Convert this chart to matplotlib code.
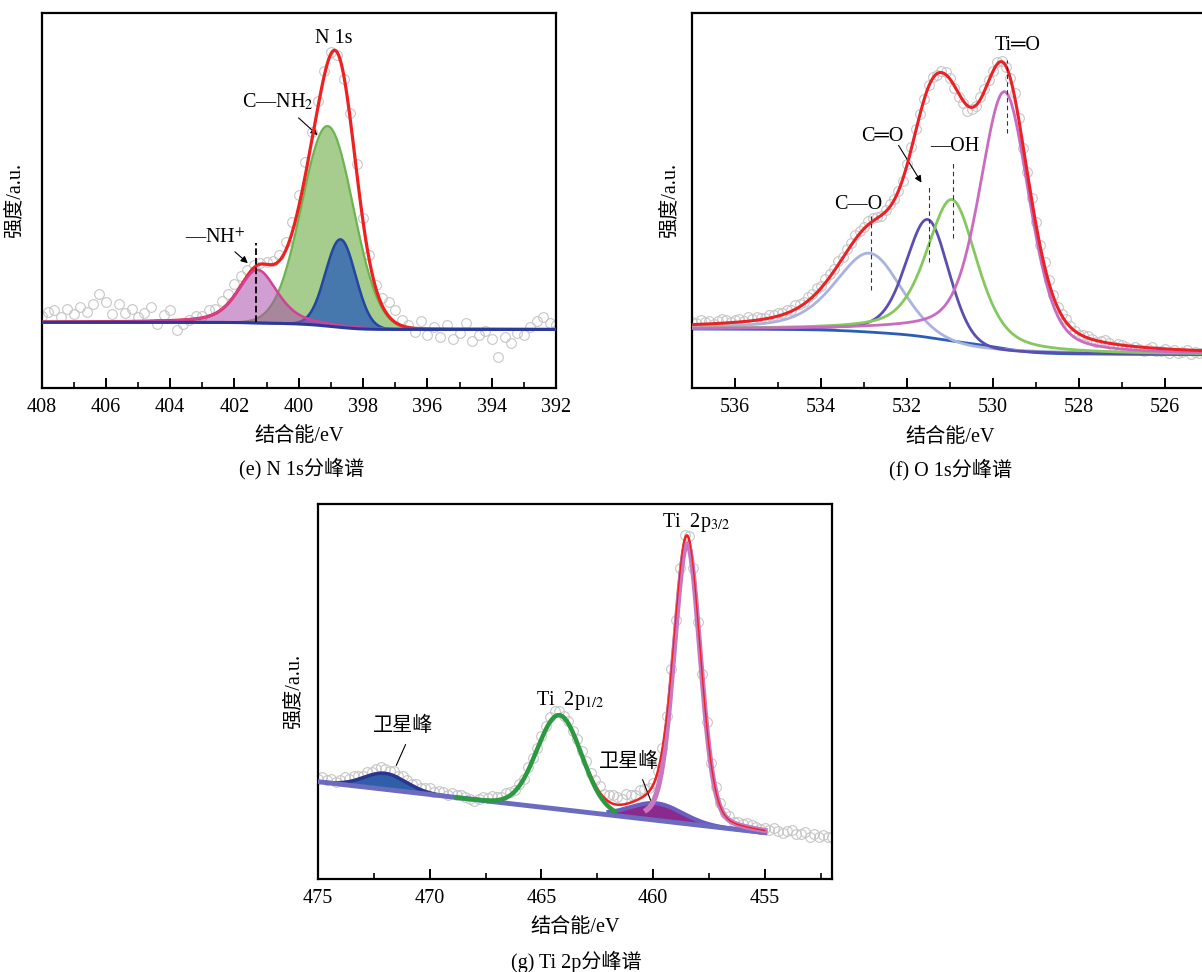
import numpy as np
import matplotlib.pyplot as plt
from matplotlib.ticker import MultipleLocator

plt.rcParams['font.family'] = ['Liberation Serif', 'Noto Sans CJK SC', 'DejaVu Sans']
plt.rcParams['mathtext.fontset'] = 'stix'

# ---------- (e) N 1s : fitted peaks (centre eV, height, FWHM eV, lorentz share) ----------
n1s_center = [401.28, 399.1, 398.7]      # -NH+, C-NH2, third component
n1s_height = [53, 200, 88]
n1s_fwhm = [1.45, 1.88, 1.1]
n1s_eta = [0.5, 0.0, 0.0]
n1s_bg = [65.7, 58.5]                    # background at 408 eV / 392 eV
# raw counts minus fit, 408 -> 392 eV every 0.2 eV
n1s_resid = [6, 10, 12, 5, 13, 8, 15, 10, 18, 28, 20, 8, 18, 9, 12, 4, 8, 14, -3, 6, 11, -10, -4, 0, 3,
             2, 6, 5, 8, 10, 12, 10, 6, 3, 1, 2, 4, 6, 8, 10, 12, 14, 10, 6, 4, 2, -2, -4, 6, 8,
             4, 6, 4, 8, 14, 12, 6, 2, -4, 8, -6, 2, -8, 4, -10, -4, 6, -12, -6, -2, -10, -28, -8, -14, -4,
             -6, 2, 8, 12, 6, 4]

# ---------- (f) O 1s ----------
o1s_center = [532.83, 531.5, 530.94, 529.72]   # C-O, C=O, -OH, Ti=O
o1s_height = [88, 122, 142, 250]
o1s_fwhm = [1.95, 1.2, 1.4, 1.35]
o1s_eta = [0.5, 0.3, 0.5, 0.35]
o1s_bg = [59, 33.5]                              # background at 537 eV / 525 eV
o1s_resid = [3, 1, 4, 2, 3, 0, 2, 4, 3, 1, 2, 3, 1, 4, 2, 3, 2, 1, 3, 2, 3,
             2, 3, 1, 4, 3, 2, 4, 3, 5, 2, 4, 3, 2, 4, 1, 3, 2, 4, 3, 2,
             4, 3, 1, -1, 2, 3, 1, 0, -2, 1, 2, 3, 1, 0, 2, 1, -1, 2, 3, 1,
             -2, -4, -3, -6, -2, 0, 3, 2, 1, 0, 2, 1, -1, 0, 3, 2, -2, 1, 2, 3,
             2, 4, 3, 1, 0, 2, 3, 1, 0, -1, 1, 2, 0, -1, 1, 2, 0, -2, 1, 0,
             -1, -3, 0, -2, -4, -1, 1, -3, -2, 0, -4, -1, -3, -2, 0, -4, -2, -3, -1, -2]

# ---------- (g) Ti 2p ----------
ti_center = [472.0, 464.2, 459.85, 458.48]     # satellite, 2p1/2, satellite, 2p3/2
ti_height = [16, 94, 17, 280]
ti_fwhm = [2.2, 2.35, 2.7, 1.4]
ti_eta = [0.0, 0.0, 0.0, 0.2]
ti_bg = [97.3, 46.3]                            # linear background at 475 eV / 455 eV
ti_resid = [3, 5, 2, 4, 1, 3, 5, 2, 4, 3,
            2, 4, 3, 5, 6, 4, 3, 5, 2, 4,
            3, 1, 4, 2, 3, 5, 2, 4, 3, 1,
            4, 2, 3, 1, 0, -2, 1, 3, 2, 4,
            3, 2, 4, 3, 1, 2, 0, 3, 2, 1,
            2, 3, 4, 5, 3, 1, 2, 0, 3, 2,
            4, 3, 5, 6, 4, 7, 9, 8, 6, 10,
            8, 6, 9, 7, 4, 2, 1, 3, 2, 4,
            1, 4, 5, 3, 2, -1, 3, 5, 2, 4,
            3, 2, 4, 1, 3, 2, 4, 3, 2, 1,
            3, 1, 4, 2, 0, 3, 5, 1, 2, 4,
            0, 3, 1, 4, 2, 3]


def peak(x, c, h, w, eta):
    g = np.exp(-4 * np.log(2) * ((x - c) / w) ** 2)
    l = 1 / (1 + 4 * ((x - c) / w) ** 2)
    return h * ((1 - eta) * g + eta * l)


def step(x, y):
    # normalised running area from low to high binding energy (Shirley step)
    a = np.concatenate([[0], np.cumsum((y[1:] + y[:-1]) / 2 * np.diff(x))])
    return a / a[-1]


def style(ax, major, minor, xlim):
    ax.set_xlim(*xlim)
    ax.set_ylim(0, 375)
    ax.xaxis.set_major_locator(MultipleLocator(major))
    ax.xaxis.set_minor_locator(MultipleLocator(minor))
    ax.tick_params(axis='x', which='major', direction='in', length=7, width=1.4,
                   labelsize=14.5, pad=7, top=False)
    ax.tick_params(axis='x', which='minor', direction='in', length=4, width=1.2, top=False)
    ax.set_yticks([])
    for s in ax.spines.values():
        s.set_linewidth(1.6)
    ax.set_xlabel('结合能/eV', fontsize=14.5)
    ax.set_ylabel('强度/a.u.', fontsize=14.5)


raw_style = dict(ls='none', marker='o', mfc='none', mec='#c6c6c6', mew=0.8, ms=7, zorder=1)
W, H = 1202, 972
fig = plt.figure(figsize=(W / 100, H / 100), dpi=100)

# ================= (e) =================
ax = fig.add_axes([41.5 / W, 1 - 388 / H, 514.5 / W, 375 / H])
x = np.linspace(392, 408, 1601)
pk = [peak(x, c, h, w, e) for c, h, w, e in zip(n1s_center, n1s_height, n1s_fwhm, n1s_eta)]
tot = np.sum(pk, axis=0)
bg = n1s_bg[1] + (n1s_bg[0] - n1s_bg[1]) * step(x, tot)
env = bg + tot
rx = np.linspace(408, 392, len(n1s_resid))
ax.plot(rx, np.interp(rx, x, env) + np.array(n1s_resid), **raw_style)
ax.fill_between(x, bg, bg + pk[1], color='#a6cd8d', lw=0, zorder=2)
ax.plot(x, bg + pk[1], color='#6db350', lw=1.6, zorder=3)
ax.fill_between(x, bg, bg + pk[2], color='#4677ad', lw=0, zorder=3)
ax.plot(x, bg + pk[2], color='#2445a0', lw=1.8, zorder=4)
ax.fill_between(x, bg, bg + pk[0], color=(0.67, 0.31, 0.67), alpha=0.55, lw=0, zorder=4)
ax.plot(x, env, color='#ee2020', lw=2.3, zorder=4.5)
ax.plot(x, bg + pk[0], color='#d3409a', lw=1.8, zorder=5)
ax.plot(x, bg, color='#2b3a9a', lw=2.2, zorder=5)
ax.plot([401.33, 401.33], [66, 145], color='k', ls='--', lw=1.3, zorder=7)
ax.text(398.91, 350, 'N 1s', fontsize=14.5, ha='center', va='center')
ax.text(400.65, 286, 'C—NH$_{2}$', fontsize=14.5, ha='center', va='center')
ax.annotate('', xy=(399.35, 251), xytext=(400.07, 272),
            arrowprops=dict(arrowstyle='-|>', color='k', lw=0.8, mutation_scale=10))
ax.text(402.61, 150, '—NH$^{+}$', fontsize=14.5, ha='center', va='center')
ax.annotate('', xy=(401.52, 123), xytext=(402.05, 138),
            arrowprops=dict(arrowstyle='-|>', color='k', lw=0.8, mutation_scale=10))
style(ax, 2, 1, (408, 392))
ax.xaxis.set_label_coords(0.5, -0.104)
ax.yaxis.set_label_coords(-0.034, 0.5)

# ================= (f) =================
ax = fig.add_axes([692 / W, 1 - 388 / H, 516 / W, 375 / H])
x = np.linspace(525, 537, 1201)
pk = [peak(x, c, h, w, e) for c, h, w, e in zip(o1s_center, o1s_height, o1s_fwhm, o1s_eta)]
tot = np.sum(pk, axis=0)
lo, hi = o1s_bg[1], o1s_bg[0]
bg = lo + (hi - lo) * step(x, tot)
env = bg + tot
rx = np.linspace(537, 525, len(o1s_resid))
ax.plot(rx, np.interp(rx, x, env) + np.array(o1s_resid), **raw_style)
ax.plot(x, bg, color='#2a5cb8', lw=2.0, zorder=2)
o1s_colors = ['#a9b3de', '#5a4fb0', '#84c85e', '#c96bc1']
for p, col in zip(pk, o1s_colors):
    ax.plot(x, lo + (hi - lo) * step(x, p) + p, color=col, lw=2.0, zorder=3)
ax.plot(x, env, color='#ea2228', lw=2.2, zorder=4)
dash = dict(color='#333333', ls=(0, (4, 3)), lw=0.8, zorder=5)
ax.plot([529.67, 529.67], [255, 328], **dash)
ax.plot([531.48, 531.48], [126, 203], **dash)
ax.plot([530.94, 530.94], [150, 225], **dash)
ax.plot([532.83, 532.83], [98, 172], **dash)
ax.text(529.42, 343, 'Ti═O', fontsize=14.5, ha='center', va='center')
ax.text(532.58, 252, 'C═O', fontsize=14.5, ha='center', va='center')
ax.annotate('', xy=(531.63, 203), xytext=(532.23, 245),
            arrowprops=dict(arrowstyle='-|>', color='k', lw=0.8, mutation_scale=10))
ax.text(530.88, 242, '—OH', fontsize=14.5, ha='center', va='center')
ax.text(533.14, 184, 'C—O', fontsize=14.5, ha='center', va='center')
style(ax, 2, 1, (537, 525))
ax.xaxis.set_label_coords(0.5, -0.107)
ax.yaxis.set_label_coords(-0.024, 0.5)

# ================= (g) =================
ax = fig.add_axes([318 / W, 1 - 879 / H, 514 / W, 375 / H])
x = np.linspace(452, 475, 2301)
pk = [peak(x, c, h, w, e) for c, h, w, e in zip(ti_center, ti_height, ti_fwhm, ti_eta)]
tot = np.sum(pk, axis=0)
bg = ti_bg[1] + (ti_bg[0] - ti_bg[1]) * (x - 455) / 20
env = bg + tot
rx = np.linspace(475, 452, len(ti_resid))
ax.plot(rx, np.interp(rx, x, env) + np.array(ti_resid), **raw_style)
fit = x >= 455
ax.plot(x[fit], env[fit], color='#ee2020', lw=1.8, zorder=2)
m1 = x >= 468.6
ax.fill_between(x[m1], bg[m1], bg[m1] + pk[0][m1], color='#2f5fa9', lw=0, zorder=3)
ax.plot(x[m1], bg[m1] + pk[0][m1], color='#2a3590', lw=2.5, zorder=3)
m3 = (x >= 455) & (x <= 462)
ax.fill_between(x[m3], bg[m3], bg[m3] + pk[2][m3], color='#8a2a8e', lw=0, zorder=3)
ax.plot(x[m3], bg[m3] + pk[2][m3], color='#6a5ec0', lw=3, zorder=4)
ax.plot(x[fit], bg[fit], color='#6b6bbf', lw=3.5, zorder=4)
m2 = (x >= 461.7) & (x <= 468.8)
ax.plot(x[m2], bg[m2] + pk[1][m2], color='#2a9a40', lw=3.2, zorder=5)
m4 = (x >= 455) & (x <= 460.3)
ax.plot(x[m4], bg[m4] + pk[3][m4], color='#c878c0', lw=3.8, zorder=5)
ax.plot(x[m4], env[m4], color='#ee2020', lw=1.0, zorder=6)
ax.text(458.09, 357, 'Ti  2p$_{3/2}$', fontsize=14.5, ha='center', va='center')
ax.text(463.72, 179, 'Ti  2p$_{1/2}$', fontsize=14.5, ha='center', va='center')
ax.text(471.2, 153, '卫星峰', fontsize=14.5, ha='center', va='center')
ax.annotate('', xy=(471.55, 111), xytext=(471.03, 137),
            arrowprops=dict(arrowstyle='-', color='k', lw=0.8))
ax.text(461.08, 117, '卫星峰', fontsize=14.5, ha='center', va='center')
ax.annotate('', xy=(460.07, 76), xytext=(460.52, 102),
            arrowprops=dict(arrowstyle='-', color='k', lw=0.8))
style(ax, 5, 2.5, (475, 452))
ax.xaxis.set_label_coords(0.5, -0.104)
ax.yaxis.set_label_coords(-0.028, 0.5)

# captions
fig.text(302 / W, 1 - 469 / H, '(e) N 1s分峰谱', fontsize=14.5, ha='center', va='center')
fig.text(951 / W, 1 - 470 / H, '(f) O 1s分峰谱', fontsize=14.5, ha='center', va='center')
fig.text(576 / W, 1 - 962 / H, '(g) Ti 2p分峰谱', fontsize=14.5, ha='center', va='center')

fig.savefig('out.png', dpi=100)
